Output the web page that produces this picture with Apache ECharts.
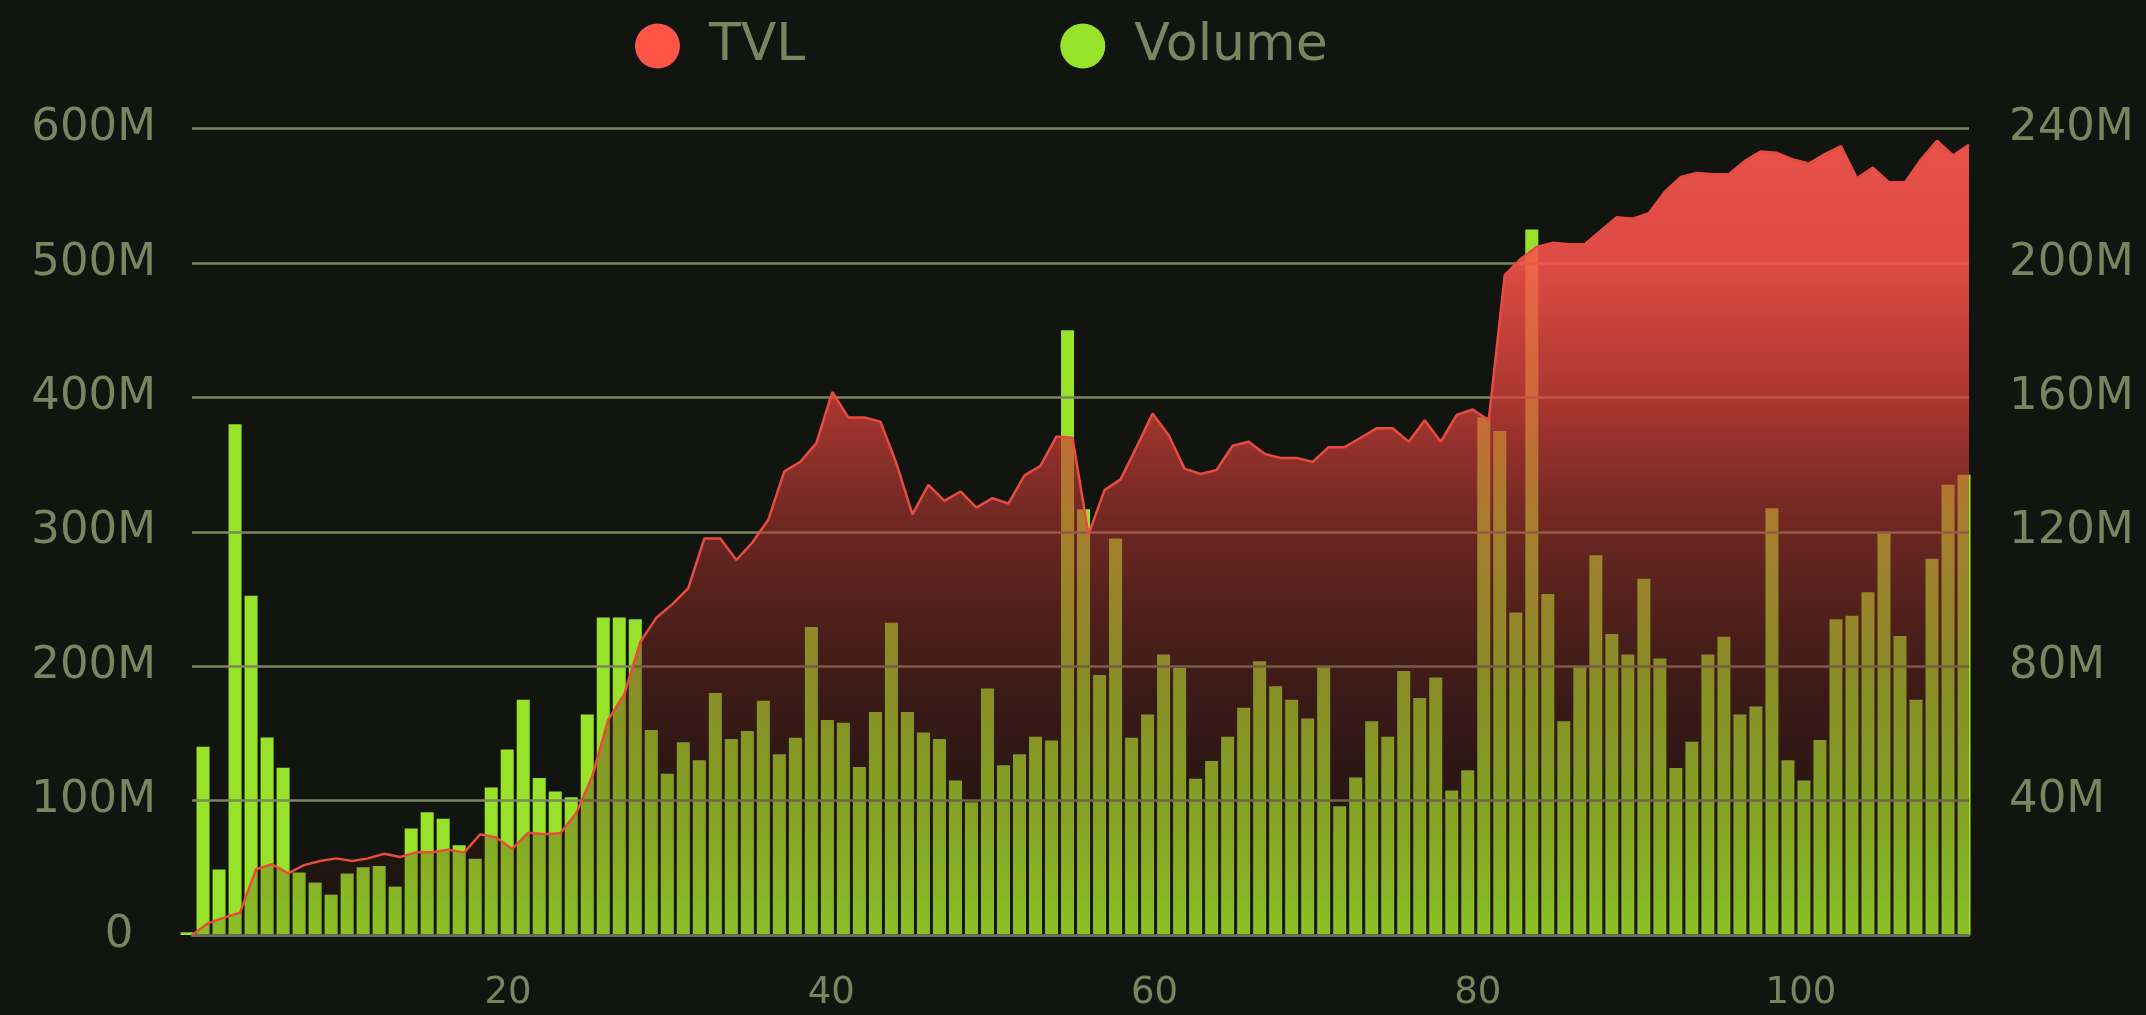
<!DOCTYPE html>
<html lang="en">
<head>
	<meta charset="UTF-8">
	<title>TVL and Volume</title>
	<script src="https://cdn.jsdelivr.net/npm/echarts@6/dist/echarts.min.js"></script>
	<style>
		html, body { margin: 0; padding: 0; background: #11140f; }
		#container { width: 2146px; height: 1015px; }
	</style>
</head>
<body>
	<div id="container"></div>
	<script>
		// TVL in millions, one point per day
		var tvl = [
			0, 8.7, 12.9, 16.6, 48.9, 52.6, 45.9, 52, 55, 57,
			55, 57, 60.5, 58, 61.5, 61.5, 63.5, 61.3, 75, 72.5,
			64, 76, 75, 75.7, 90.6, 118, 160, 179, 218, 236,
			246, 258, 295, 295, 279, 292, 309, 345, 352, 366,
			404, 385, 385, 382, 351, 313, 335, 323, 330, 318,
			325, 321, 342, 349, 371, 370, 298, 331, 339, 363,
			388, 372, 347, 343, 346, 364, 367, 358, 355, 355,
			352, 363, 363, 370, 377, 377, 367, 383, 367, 387,
			391, 383, 491, 503, 512, 515, 514, 514, 524, 534,
			533, 537, 553, 564, 567, 566, 566, 576, 583, 582,
			577, 574, 581, 587, 563, 571, 560, 560, 577, 591,
			580, 588
		];

		// volume in millions, one bar per day
		var volume = [
			0.8, 56, 19.5, 152, 101, 58.8, 49.8, 18.6, 15.6, 12,
			18.3, 20.2, 20.5, 14.4, 31.7, 36.5, 34.6, 26.7, 22.7, 43.9,
			55.2, 70, 46.7, 42.7, 41, 65.6, 94.5, 94.5, 94, 61,
			48, 57.4, 52, 72, 58.3, 60.7, 69.7, 53.8, 58.7, 91.7,
			64, 63.2, 50, 66.4, 92.9, 66.4, 60.3, 58.3, 46, 39.5,
			73.4, 50.5, 53.8, 59, 57.9, 180, 126.7, 77.4, 118, 58.7,
			65.6, 83.5, 79.5, 46.5, 51.8, 59, 67.6, 81.5, 74, 70,
			64.4, 79.9, 38.3, 46.9, 63.6, 59, 78.6, 70.5, 76.6, 43,
			49, 154, 150, 96, 210, 101.5, 63.6, 80, 113, 89.6,
			83.5, 106, 82.3, 49.7, 57.5, 83.5, 88.8, 65.6, 68, 127,
			52, 46, 58, 94, 95, 102, 120, 89, 70, 112,
			134, 137
		];

		var days = [];
		for (var i = 0; i < tvl.length; i++) days.push(i + 1);

		var textColor = '#7a8560';
		var font = 'DejaVu Sans';

		var myChart = echarts.init(document.getElementById('container'));
		var option = {
			backgroundColor: '#11140f',
			animation: false,
			legend: {
				data: ['TVL', 'Volume'],
				left: 630,
				top: 15,
				icon: 'circle',
				itemWidth: 45,
				itemHeight: 45,
				itemGap: 255,
				textStyle: {
					color: textColor,
					fontFamily: font,
					fontSize: 52,
					padding: [0, 0, 0, 24]
				}
			},
			grid: {
				left: 192,
				right: 177,
				top: 128.6,
				bottom: 80
			},
			xAxis: [{
				type: 'value',
				min: 0.45,
				max: 110.4,
				z: 1,
				axisLine: { show: true, lineStyle: { color: '#6a715b', width: 2.5 } },
				axisTick: { show: false },
				splitLine: { show: false },
				axisLabel: {
					color: textColor,
					fontFamily: font,
					fontSize: 37,
					margin: 40,
					showMinLabel: false,
					showMaxLabel: false
				}
			}, {
				type: 'category',
				show: false,
				boundaryGap: false,
				data: days
			}, {
				type: 'value',
				show: false,
				min: 0.31,
				max: 111.31
			}],
			yAxis: [{
				type: 'value',
				min: 0,
				max: 600,
				interval: 100,
				z: 1,
				axisLine: { show: false },
				axisTick: { show: false },
				splitLine: { lineStyle: { color: '#7a8762', width: 2.5 } },
				axisLabel: {
					color: textColor,
					fontFamily: font,
					fontSize: 45,
					margin: 36,
					padding: [14, 0, 0, 0],
					formatter: function (v) { return v === 0 ? '0\u2002' : v + 'M'; }
				}
			}, {
				type: 'value',
				min: 0,
				max: 240,
				interval: 40,
				axisLine: { show: false },
				axisTick: { show: false },
				splitLine: { show: false },
				axisLabel: {
					color: textColor,
					fontFamily: font,
					fontSize: 45,
					margin: 40,
					padding: [14, 0, 0, 0],
					showMinLabel: false,
					formatter: function (v) { return v + 'M'; }
				}
			}],
			series: [{
				name: 'Volume',
				type: 'bar',
				xAxisIndex: 2,
				yAxisIndex: 1,
				z: 0,
				clip: false,
				barWidth: 13,
				itemStyle: { color: '#99e22a' },
				data: volume.map(function (v, i) { return [i, v]; })
			}, {
				name: 'TVL',
				type: 'line',
				xAxisIndex: 1,
				yAxisIndex: 0,
				z: 2,
				symbol: 'none',
				itemStyle: { color: '#ff5548' },
				lineStyle: { color: '#e84b40', width: 2.5 },
				areaStyle: {
					opacity: 1,
					color: new echarts.graphic.LinearGradient(0, 0, 0, 1, [
						{ offset: 0, color: 'rgba(251,87,79,0.92)' },
						{ offset: 0.16, color: 'rgba(248,82,75,0.88)' },
						{ offset: 0.33, color: 'rgba(221,66,59,0.75)' },
						{ offset: 0.5, color: 'rgba(173,52,47,0.56)' },
						{ offset: 0.665, color: 'rgba(122,38,35,0.46)' },
						{ offset: 0.83, color: 'rgba(87,26,24,0.33)' },
						{ offset: 1, color: 'rgba(65,20,21,0.165)' }
					])
				},
				data: tvl
			}]
		};

		myChart.setOption(option);
	</script>
</body>
</html>
